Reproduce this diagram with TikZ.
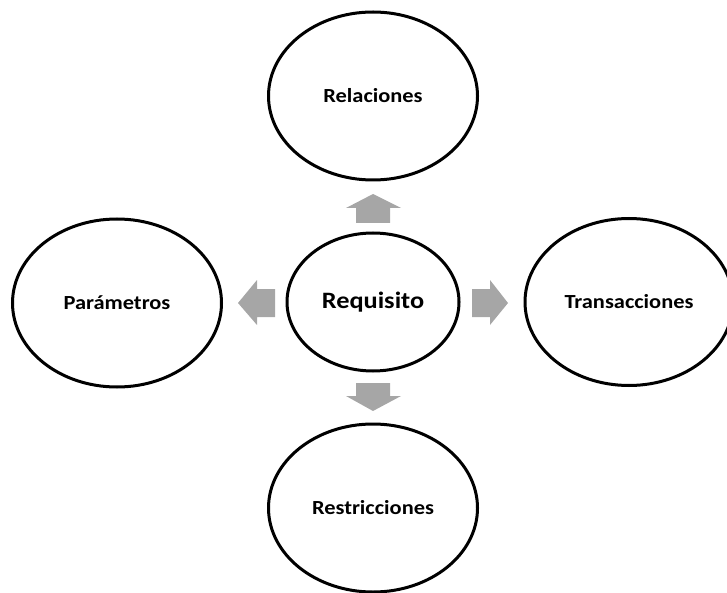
\documentclass[tikz,border=0pt]{standalone}
\usepackage{fontspec}
\newfontfamily\labfont[FakeStretch=1.12]{Carlito}
\usetikzlibrary{shapes.geometric}
\tikzset{
  bubble/.style={draw=black, line width=3pt, ellipse, inner sep=0pt, fill=white,
    font=\labfont\bfseries\fontsize{20}{24}\selectfont},
  blockarrow/.style={fill=black!35, draw=none}
}
\begin{document}
\begin{tikzpicture}[x=1pt,y=-1pt]
\useasboundingbox (0,0) rectangle (727,593);
\clip (0,0) rectangle (727,593);
\node[bubble, minimum width=209pt, minimum height=168pt] (rel) at (373,96) {Relaciones};
\node[bubble, minimum width=209pt, minimum height=168pt] (par) at (117,303) {Parámetros};
\node[bubble, minimum width=208pt, minimum height=167pt] (tra) at (629,302) {Transacciones};
\node[bubble, minimum width=209pt, minimum height=168pt] (res) at (373,508) {Restricciones};
\node[bubble, minimum width=172pt, minimum height=138pt, font=\labfont\bfseries\fontsize{23.5}{28}\selectfont] (req) at (373,302) {Requisito};
% block arrows
\fill[blockarrow] (356,223) -- (356,208) -- (346,208) -- (373,194) -- (401,208) -- (390,208) -- (390,223) -- cycle;
\fill[blockarrow] (356,383) -- (356,396) -- (346,396) -- (373,411) -- (401,396) -- (390,396) -- (390,383) -- cycle;
\fill[blockarrow] (275,289) -- (257,289) -- (257,280) -- (238,303) -- (257,325) -- (257,317) -- (275,317) -- cycle;
\fill[blockarrow] (472,289) -- (490,289) -- (490,280) -- (508,303) -- (490,325) -- (490,317) -- (472,317) -- cycle;
\end{tikzpicture}
\end{document}
